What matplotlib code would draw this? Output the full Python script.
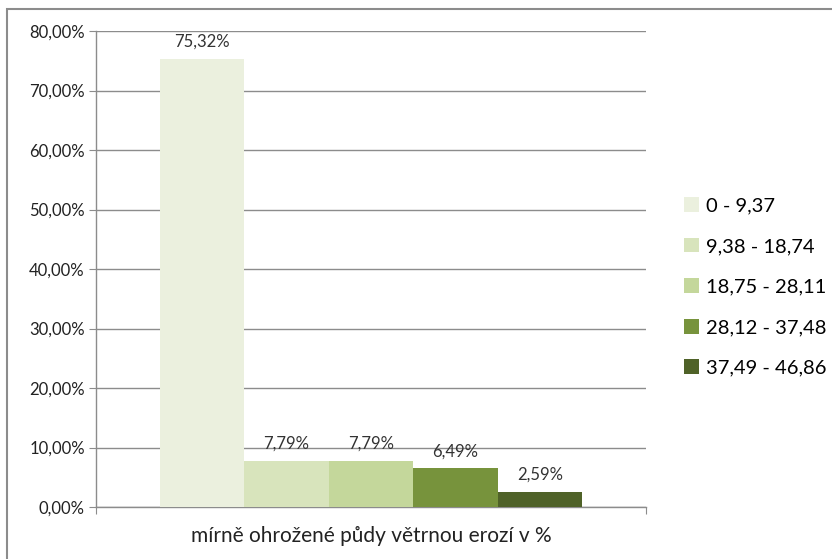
import matplotlib
matplotlib.use("Agg")
import matplotlib.pyplot as plt
from matplotlib.patches import Rectangle

category = "mírně ohrožené půdy větrnou erozí v %"
ranges = ["0 - 9,37", "9,38 - 18,74", "18,75 - 28,11", "28,12 - 37,48", "37,49 - 46,86"]
values = [75.32, 7.79, 7.79, 6.49, 2.59]
colors = ["#EBF0DE", "#D8E4BC", "#C4D79B", "#77933C", "#4F6228"]
yticks = [0, 10, 20, 30, 40, 50, 60, 70, 80]

plt.rcParams["font.family"] = ["Lato", "DejaVu Sans"]

W, H = 832, 559
fig = plt.figure(figsize=(W / 100, H / 100), dpi=100)

# chart frame (top and left edges visible)
fig.patches.append(Rectangle((7 / W, -0.1), 1.2, (H - 9) / H + 0.1, transform=fig.transFigure,
                             fill=False, edgecolor="#8c8c8c", linewidth=1.5))

left, right, top, bottom = 96, 646, 31, 507
ax = fig.add_axes([left / W, 1 - bottom / H, (right - left) / W, (bottom - top) / H])

bw = 84.5 / (right - left)
for i, (v, c, lab) in enumerate(zip(values, colors, ranges)):
    x = (i - 2) * bw
    ax.bar(x, v, width=bw, color=c, label=lab, zorder=3)
    ax.text(x, v + 1.5, f"{v:.2f}%".replace(".", ","), ha="center", va="bottom",
            fontsize=12, color="#333333", zorder=4)

ax.set_xlim(-0.5, 0.5)
ax.set_ylim(0, 80)
ax.set_yticks(yticks)
ax.set_yticklabels([f"{t:.2f}%".replace(".", ",") for t in yticks], fontsize=12, color="#222222")
ax.yaxis.grid(True, color="#8c8c8c", linewidth=1, zorder=0)
ax.tick_params(axis="y", length=5, color="#8c8c8c", pad=3)
ax.set_xticks([-0.5, 0.5])
ax.set_xticklabels(["", ""])
ax.tick_params(axis="x", length=5, color="#8c8c8c", direction="out")
for s in ["top", "right"]:
    ax.spines[s].set_visible(False)
for s in ["left", "bottom"]:
    ax.spines[s].set_color("#8c8c8c")
    ax.spines[s].set_linewidth(1)
fig.text((185 + 557) / 2 / W, 1 - 536 / H, category, ha="center", va="center",
         fontsize=15, color="#222222")

ax.legend(loc="center left", bbox_to_anchor=(676 / W, 1 - 287 / H), bbox_transform=fig.transFigure,
          frameon=False, fontsize=14.5, handlelength=0.75, handleheight=0.75,
          handletextpad=0.35, labelspacing=1.15, borderaxespad=0)

fig.savefig("out.png", dpi=100)
